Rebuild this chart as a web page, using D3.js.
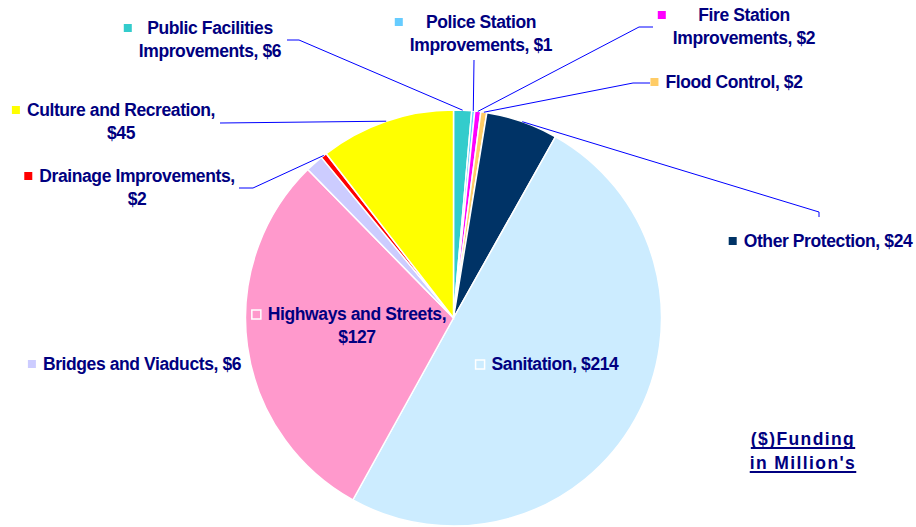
<!DOCTYPE html>
<html>
<head>
<meta charset="utf-8">
<script src="https://cdn.jsdelivr.net/npm/d3@7"></script>
<style>
  body { margin: 0; background: #fff; }
  text { font-family: "Liberation Sans", Arial, sans-serif; font-weight: bold; fill: #000080; }
</style>
</head>
<body>
<div id="chart"></div>
<script>
// ---------------- data (millions of $) ----------------
let categories = ["Public Facilities Improvements", "Police Station Improvements", "Fire Station Improvements",
  "Flood Control", "Other Protection", "Sanitation", "Highways and Streets", "Bridges and Viaducts",
  "Drainage Improvements", "Culture and Recreation"];
let values = [6, 1, 2, 2, 24, 214, 127, 6, 2, 45];
let colors = ["#33cccc", "#66ccff", "#ff00ff", "#ffcc66", "#003366", "#ccecff", "#ff99cc", "#ccccff", "#ff0000", "#ffff00"];
// label text lines, as shown on the chart
let labelLines = [
  ["Public Facilities", "Improvements, $6"],
  ["Police Station", "Improvements, $1"],
  ["Fire Station", "Improvements, $2"],
  ["Flood Control, $2"],
  ["Other Protection, $24"],
  ["Sanitation, $214"],
  ["Highways and Streets,", "$127"],
  ["Bridges and Viaducts, $6"],
  ["Drainage Improvements,", "$2"],
  ["Culture and Recreation,", "$45"]
];
let titleLines = ["($)Funding", "in Million's"];

// ---------------- layout ----------------
let width = 916, height = 527;
let cx = 453.5, cy = 318, radius = 208;

// label placement: center x, first baseline, leader elbow points (outside -> in)
let labelPos = [
  {x: 210, y: 34, leader: [[287, 40], [299, 40]]},
  {x: 481, y: 28, leader: [[474, 60]]},
  {x: 744, y: 21, leader: [[653, 27], [639, 27]]},
  {x: 734, y: 88, leader: [[650, 83], [633, 83]]},
  {x: 828, y: 247, leader: [[819, 217], [819, 212]]},
  {x: 555, y: 370, hollow: true},
  {x: 357, y: 320, hollow: true},
  {x: 142, y: 370},
  {x: 137, y: 182, leader: [[239, 188], [253, 188]]},
  {x: 121, y: 116, leader: [[220, 123]]}
];
let lineGap = 22.5;

let svg = d3.select("#chart").append("svg")
  .attr("width", width)
  .attr("height", height);

let pie = d3.pie().sort(null).value(d => d)(values);
let arc = d3.arc().innerRadius(0).outerRadius(radius);

let pieG = svg.append("g").attr("transform", `translate(${cx},${cy})`);

pieG.selectAll("path").data(pie).enter().append("path")
  .attr("d", arc)
  .style("fill", (d, i) => colors[i])
  .style("stroke", "#fff")
  .style("stroke-width", 1.5);

// leader lines end on the slice edge at its middle angle
let edge = d => {
  let a = (d.startAngle + d.endAngle) / 2;
  return [cx + radius * Math.sin(a), cy - radius * Math.cos(a)];
};

let line = d3.line();
svg.append("g").selectAll("path").data(pie.filter((d, i) => labelPos[i].leader)).enter().append("path")
  .attr("d", d => line(labelPos[d.index].leader.concat([edge(d)])))
  .style("fill", "none")
  .style("stroke", "#0000ff")
  .style("stroke-width", 1);

// data labels
let labels = svg.append("g").selectAll("g").data(categories).enter().append("g");

labels.each(function(c, i) {
  let g = d3.select(this);
  let p = labelPos[i];
  let maxW = 0;
  labelLines[i].forEach((t, j) => {
    let txt = g.append("text")
      .attr("x", p.x)
      .attr("y", p.y + j * lineGap)
      .attr("text-anchor", "middle")
      .style("font-size", "17.5px")
      .style("letter-spacing", "-0.4px")
      .text(t);
    maxW = Math.max(maxW, txt.node().getComputedTextLength());
  });
  let mx = p.x - maxW / 2 - 15;
  g.insert("rect", "text")
    .attr("x", p.hollow ? mx - 1 : mx)
    .attr("y", p.y - 10)
    .attr("width", p.hollow ? 9 : 8)
    .attr("height", p.hollow ? 9 : 8)
    .style("fill", colors[i])
    .style("stroke", p.hollow ? "#fff" : "none")
    .style("stroke-width", 1.5);
});

// funding note, underlined
let title = svg.append("g");
titleLines.forEach((t, j) => {
  let txt = title.append("text")
    .attr("x", 803)
    .attr("y", 445 + j * 24)
    .attr("text-anchor", "middle")
    .style("font-size", "17.5px")
    .style("letter-spacing", "1.4px")
    .text(t);
  let w = txt.node().getComputedTextLength();
  title.append("line")
    .attr("x1", 803 - w / 2).attr("x2", 803 + w / 2)
    .attr("y1", 448 + j * 24).attr("y2", 448 + j * 24)
    .style("stroke", "#000080")
    .style("stroke-width", 2);
});
</script>
</body>
</html>
